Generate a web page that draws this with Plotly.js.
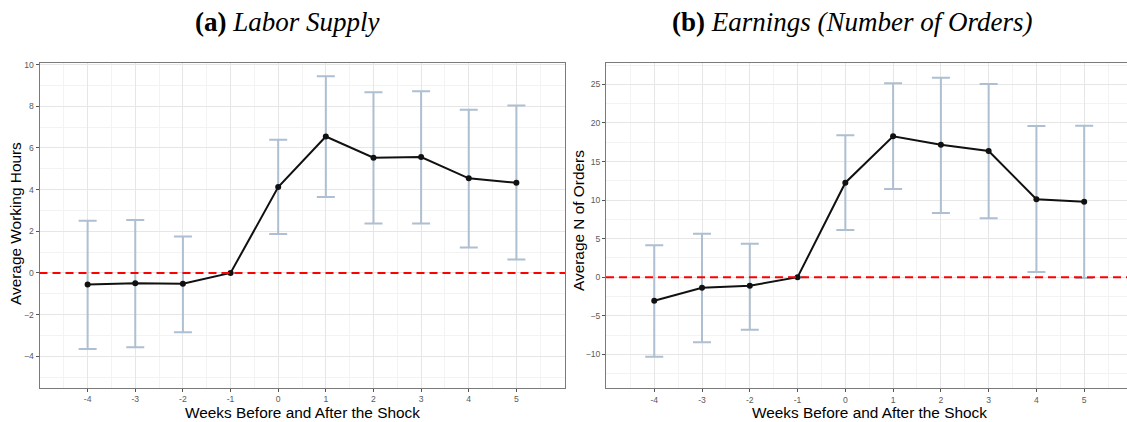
<!DOCTYPE html>
<html>
<head>
<meta charset="utf-8">
<script src="https://cdn.plot.ly/plotly-3.0.1.min.js"></script>
<style>html,body{margin:0;padding:0;background:#fff;}#chart{width:1127px;height:422px;}</style>
</head>
<body>
<div id="chart"></div>
<script>
// Weeks relative to the shock
const weeks = [-4, -3, -2, -1, 0, 1, 2, 3, 4, 5];
const weekLabels = ["-4", "-3", "-2", "-1", "0", "1", "2", "3", "4", "5"];

// (a) Labor supply: average working hours
const hoursEst   = [-0.55, -0.49, -0.52, 0, 4.12, 6.55, 5.53, 5.56, 4.54, 4.33];
const hoursUpper = [ 2.50,  2.54,  1.75, 0, 6.39, 9.44, 8.67, 8.72, 7.83, 8.04];
const hoursLower = [-3.65, -3.56, -2.85, 0, 1.87, 3.64, 2.37, 2.37, 1.22, 0.65];

// (b) Earnings: average number of orders
const ordersEst   = [-3.05, -1.36, -1.10, 0, 12.25, 18.27, 17.18, 16.36, 10.10, 9.79];
const ordersUpper = [ 4.14,  5.64,  4.34, 0, 18.39, 25.14, 25.86, 25.05, 19.60, 19.64];
const ordersLower = [-10.31, -8.44, -6.81, 0, 6.12, 11.43, 8.32, 7.64, 0.67, -0.10];

const W = 1127, H = 422;
const px = v => v / W;
const py = v => 1 - v / H;

const errColor = '#adbfd0';
const gridMajor = '#e6e6e6';
const gridMinor = '#f3f3f3';
const frameColor = '#7a7a7a';
const tickFont = {family: 'Liberation Sans, Arial, sans-serif', size: 8.6, color: '#5a5a5a'};

function errTrace(est, up, lo, xa, ya) {
  return {
    x: weeks, y: est, xaxis: xa, yaxis: ya, type: 'scatter', mode: 'markers',
    marker: {size: 1, color: 'rgba(0,0,0,0)'},
    error_y: {
      type: 'data', symmetric: false,
      array: up.map((u, i) => u - est[i]),
      arrayminus: lo.map((l, i) => est[i] - l),
      color: errColor, thickness: 2, width: 9
    },
    hoverinfo: 'skip', showlegend: false
  };
}
function lineTrace(est, xa, ya) {
  return {
    x: weeks, y: est, xaxis: xa, yaxis: ya, type: 'scatter', mode: 'lines+markers',
    line: {color: '#111111', width: 2},
    marker: {color: '#111111', size: 6},
    showlegend: false
  };
}

const minorX = [];
for (let v = -5; v <= 6; v += 0.5) minorX.push(v);

function xAxis(domain, range, mirror) {
  return {
    domain: domain, range: range,
    tickmode: 'array', tickvals: weeks, ticktext: weekLabels,
    ticks: 'outside', ticklen: 3, tickcolor: '#555', tickwidth: 1,
    tickfont: tickFont,
    showgrid: true, gridcolor: gridMajor, gridwidth: 1,
    minor: {tickmode: 'array', tickvals: minorX, showgrid: true, gridcolor: gridMinor, gridwidth: 1, ticks: ''},
    zeroline: false, showline: true, linecolor: frameColor, linewidth: 1, mirror: mirror,
    fixedrange: true
  };
}
function yAxis(domain, range, dtick, mirror, anchor) {
  return {
    domain: domain, range: range, anchor: anchor,
    tickmode: 'linear', tick0: 0, dtick: dtick,
    ticks: 'outside', ticklen: 3, tickcolor: '#555', tickwidth: 1,
    tickfont: tickFont,
    showgrid: true, gridcolor: gridMajor, gridwidth: 1,
    minor: {dtick: dtick / 2, tick0: 0, showgrid: true, gridcolor: gridMinor, gridwidth: 1, ticks: ''},
    zeroline: false, showline: true, linecolor: frameColor, linewidth: 1, mirror: mirror,
    fixedrange: true
  };
}

const data = [
  errTrace(hoursEst, hoursUpper, hoursLower, 'x', 'y'),
  lineTrace(hoursEst, 'x', 'y'),
  errTrace(ordersEst, ordersUpper, ordersLower, 'x2', 'y2'),
  lineTrace(ordersEst, 'x2', 'y2')
];

const titleFont = {family: 'Liberation Serif, Times New Roman, serif', size: 27, color: '#000'};
const axTitleFont = {family: 'Liberation Sans, Arial, sans-serif', size: 15.4, color: '#000'};

const layout = {
  width: W, height: H,
  margin: {l: 0, r: 0, t: 0, b: 0},
  paper_bgcolor: '#ffffff', plot_bgcolor: '#ffffff',
  showlegend: false,
  xaxis: Object.assign(xAxis([px(39.5), px(565)], [-5.01, 6.02], true), {anchor: 'y'}),
  yaxis: yAxis([py(388), py(62.5)], [-5.52, 10.1], 2, true, 'x'),
  xaxis2: Object.assign(xAxis([px(606), 1], [-5.01, 5.896], true), {anchor: 'y2'}),
  yaxis2: yAxis([py(388.3), py(63.3)], [-14.4, 27.73], 5, false, 'x2'),
  shapes: [
    {type: 'line', xref: 'x domain', yref: 'y', x0: 0, x1: 1, y0: 0, y1: 0,
     line: {color: '#ff0000', width: 2, dash: '8px,5px'}, layer: 'above'},
    {type: 'line', xref: 'x2 domain', yref: 'y2', x0: 0, x1: 1, y0: 0, y1: 0,
     line: {color: '#ff0000', width: 2, dash: '8px,5px'}, layer: 'above'}
  ],
  annotations: [
    {text: '<b>(a)</b> <i>Labor Supply</i>', xref: 'paper', yref: 'paper',
     x: px(287.3), y: py(22), xanchor: 'center', yanchor: 'middle', showarrow: false, font: titleFont},
    {text: '<b>(b)</b> <i>Earnings (Number of Orders)</i>', xref: 'paper', yref: 'paper',
     x: px(852.4), y: py(22), xanchor: 'center', yanchor: 'middle', showarrow: false, font: titleFont},
    {text: 'Average Working Hours', xref: 'paper', yref: 'paper', textangle: -90,
     x: px(15), y: py(224), xanchor: 'center', yanchor: 'middle', showarrow: false, font: axTitleFont},
    {text: 'Average N of Orders', xref: 'paper', yref: 'paper', textangle: -90,
     x: px(578), y: py(221), xanchor: 'center', yanchor: 'middle', showarrow: false, font: axTitleFont},
    {text: 'Weeks Before and After the Shock', xref: 'paper', yref: 'paper',
     x: px(302.3), y: py(412.5), xanchor: 'center', yanchor: 'middle', showarrow: false, font: axTitleFont},
    {text: 'Weeks Before and After the Shock', xref: 'paper', yref: 'paper',
     x: px(869.3), y: py(412.5), xanchor: 'center', yanchor: 'middle', showarrow: false, font: axTitleFont}
  ]
};

Plotly.newPlot('chart', data, layout, {staticPlot: true, displayModeBar: false});
</script>
</body>
</html>
